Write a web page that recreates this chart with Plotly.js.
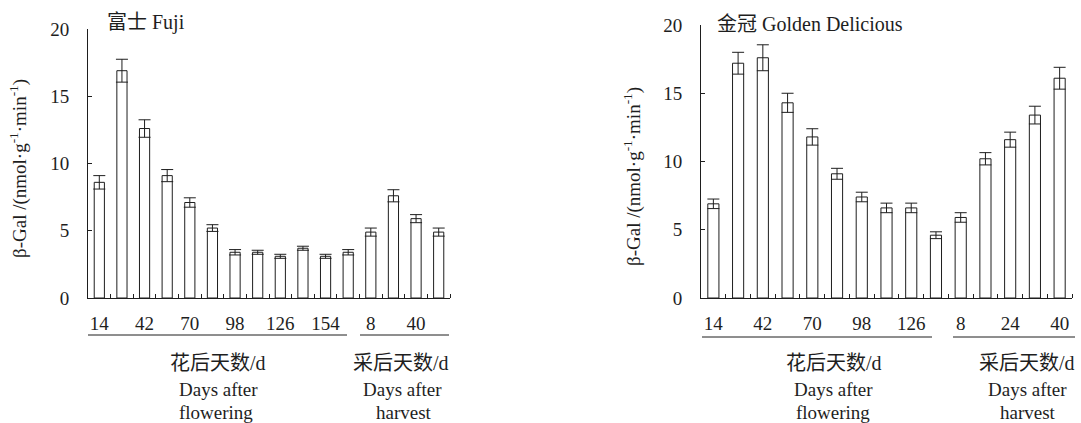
<!DOCTYPE html>
<html><head><meta charset="utf-8">
<script src="https://cdn.plot.ly/plotly-3.0.1.min.js"></script>
<style>html,body{margin:0;padding:0;background:#fff}</style>
</head><body><div id="chart" style="width:1081px;height:423px"></div>
<script>
// ---- Data ----
const fujiFlowerDays = [14,28,42,56,70,84,98,112,126,140,154,168];
const fujiHarvestDays = [8,24,40,56];
const fujiValues = [8.6,16.9,12.6,9.1,7.1,5.2,3.4,3.4,3.1,3.7,3.1,3.4,4.9,7.6,5.9,4.9];
const fujiErrors = [0.5,0.85,0.65,0.45,0.35,0.25,0.2,0.15,0.15,0.15,0.15,0.2,0.3,0.45,0.3,0.3];
const fujiTickLabels = ['14','42','70','98','126','154','8','40'];

const goldenFlowerDays = [14,28,42,56,70,84,98,112,126,140];
const goldenHarvestDays = [8,16,24,32,40];
const goldenValues = [6.9,17.2,17.6,14.3,11.8,9.1,7.4,6.6,6.6,4.6,5.9,10.2,11.6,13.4,16.1];
const goldenErrors = [0.35,0.8,0.95,0.7,0.6,0.4,0.35,0.35,0.35,0.25,0.35,0.45,0.55,0.65,0.8];
const goldenTickLabels = ['14','42','70','98','126','8','24','40'];

const yTickVals = [0,5,10,15,20];

// category list: flowering days then harvest days
const fujiCats = fujiFlowerDays.map(d => 'A' + d).concat(fujiHarvestDays.map(d => 'H' + d));
const goldenCats = goldenFlowerDays.map(d => 'A' + d).concat(goldenHarvestDays.map(d => 'H' + d));

const FONT = 'Liberation Serif, Times New Roman, Noto Sans CJK SC, serif';
const INK = '#1e1e1e';

// category position on the axis = its index in the list
const pos = cats => cats.map((c, i) => i);
// label positions: index of each labelled category (label text = its day number)
function labelPos(cats, labels) {
  const out = [];
  let k = 0;
  cats.forEach((c, i) => {
    if (k < labels.length && c.slice(1) === labels[k]) { out.push(i); k++; }
  });
  return out;
}

function barTrace(cats, vals, errs, xa, ya) {
  return {
    type: 'bar', x: pos(cats), y: vals, xaxis: xa, yaxis: ya,
    marker: {color: '#ffffff', line: {color: INK, width: 1}},
    error_y: {type: 'data', array: errs, visible: true, color: INK, thickness: 1, width: 6},
    hoverinfo: 'skip', showlegend: false
  };
}

function xAxis(cats, labels, domain, anchor) {
  const bounds = cats.map((c, i) => i + 0.5);
  return {
    domain: domain, anchor: anchor, type: 'linear',
    tickmode: 'array', tickvals: labelPos(cats, labels), ticktext: labels,
    ticks: '', tickangle: 0,
    minor: {tickmode: 'array', tickvals: bounds, ticks: 'inside', ticklen: 4, tickcolor: INK, tickwidth: 1, showgrid: false},
    showline: true, linecolor: INK, linewidth: 1, showgrid: false, zeroline: false,
    range: [-0.5, cats.length - 0.5], fixedrange: true,
    ticklabelstandoff: 8,
    tickfont: {family: FONT, size: 19, color: INK}
  };
}
function yAxis(domain, anchor) {
  return {
    domain: domain, anchor: anchor, range: [0, 20],
    tickmode: 'array', tickvals: yTickVals,
    ticks: 'inside', ticklen: 4, tickcolor: INK, tickwidth: 1,
    showline: true, linecolor: INK, linewidth: 1, showgrid: false, zeroline: false,
    ticklabelstandoff: 14,
    tickfont: {family: FONT, size: 19, color: INK}
  };
}

const H = 423, W = 1081;
const py = v => (H - v) / H;
const px = v => v / W;

function txt(x, y, text, size, opts) {
  return Object.assign({
    xref: 'paper', yref: 'paper', x: px(x), y: py(y), text: text, showarrow: false,
    xanchor: 'center', yanchor: 'middle',
    font: {family: FONT, size: size, color: INK}
  }, opts || {});
}
const yTitle = 'β-Gal /(nmol·g<sup>-1</sup>·min<sup>-1</sup>)';

const layout = {
  width: W, height: H, margin: {l: 0, r: 0, t: 0, b: 0},
  paper_bgcolor: '#fff', plot_bgcolor: '#fff',
  bargap: 0.55, showlegend: false,
  xaxis: xAxis(fujiCats, fujiTickLabels, [px(88), px(450)], 'y'),
  yaxis: yAxis([py(298), py(29)], 'x'),
  xaxis2: xAxis(goldenCats, goldenTickLabels, [px(701), px(1072)], 'y2'),
  yaxis2: yAxis([py(298), py(25)], 'x2'),
  shapes: [
    {type: 'line', xref: 'paper', yref: 'paper', x0: px(88), x1: px(347), y0: py(335), y1: py(335), line: {color: INK, width: 1}},
    {type: 'line', xref: 'paper', yref: 'paper', x0: px(360), x1: px(449), y0: py(335), y1: py(335), line: {color: INK, width: 1}},
    {type: 'line', xref: 'paper', yref: 'paper', x0: px(702), x1: px(932), y0: py(337), y1: py(337), line: {color: INK, width: 1}},
    {type: 'line', xref: 'paper', yref: 'paper', x0: px(953), x1: px(1075), y0: py(337), y1: py(337), line: {color: INK, width: 1}}
  ],
  annotations: [
    txt(105, 23, '富士 Fuji', 20, {xanchor: 'left'}),
    txt(715, 24, '金冠 Golden Delicious', 20, {xanchor: 'left'}),
    txt(18, 169, yTitle, 19, {textangle: -90}),
    txt(632, 176, yTitle, 19, {textangle: -90}),
    txt(218, 363, '花后天数/d', 20),
    txt(218, 389, 'Days after', 19),
    txt(216, 412, 'flowering', 19),
    txt(401, 363, '采后天数/d', 20),
    txt(402, 389, 'Days after', 19),
    txt(404, 412, 'harvest', 19),
    txt(834, 363, '花后天数/d', 20),
    txt(833, 389, 'Days after', 19),
    txt(833, 412, 'flowering', 19),
    txt(1027, 363, '采后天数/d', 20),
    txt(1027, 389, 'Days after', 19),
    txt(1028, 412, 'harvest', 19)
  ]
};

Plotly.newPlot('chart', [
  barTrace(fujiCats, fujiValues, fujiErrors, 'x', 'y'),
  barTrace(goldenCats, goldenValues, goldenErrors, 'x2', 'y2')
], layout, {staticPlot: true, displayModeBar: false});
</script></body></html>
